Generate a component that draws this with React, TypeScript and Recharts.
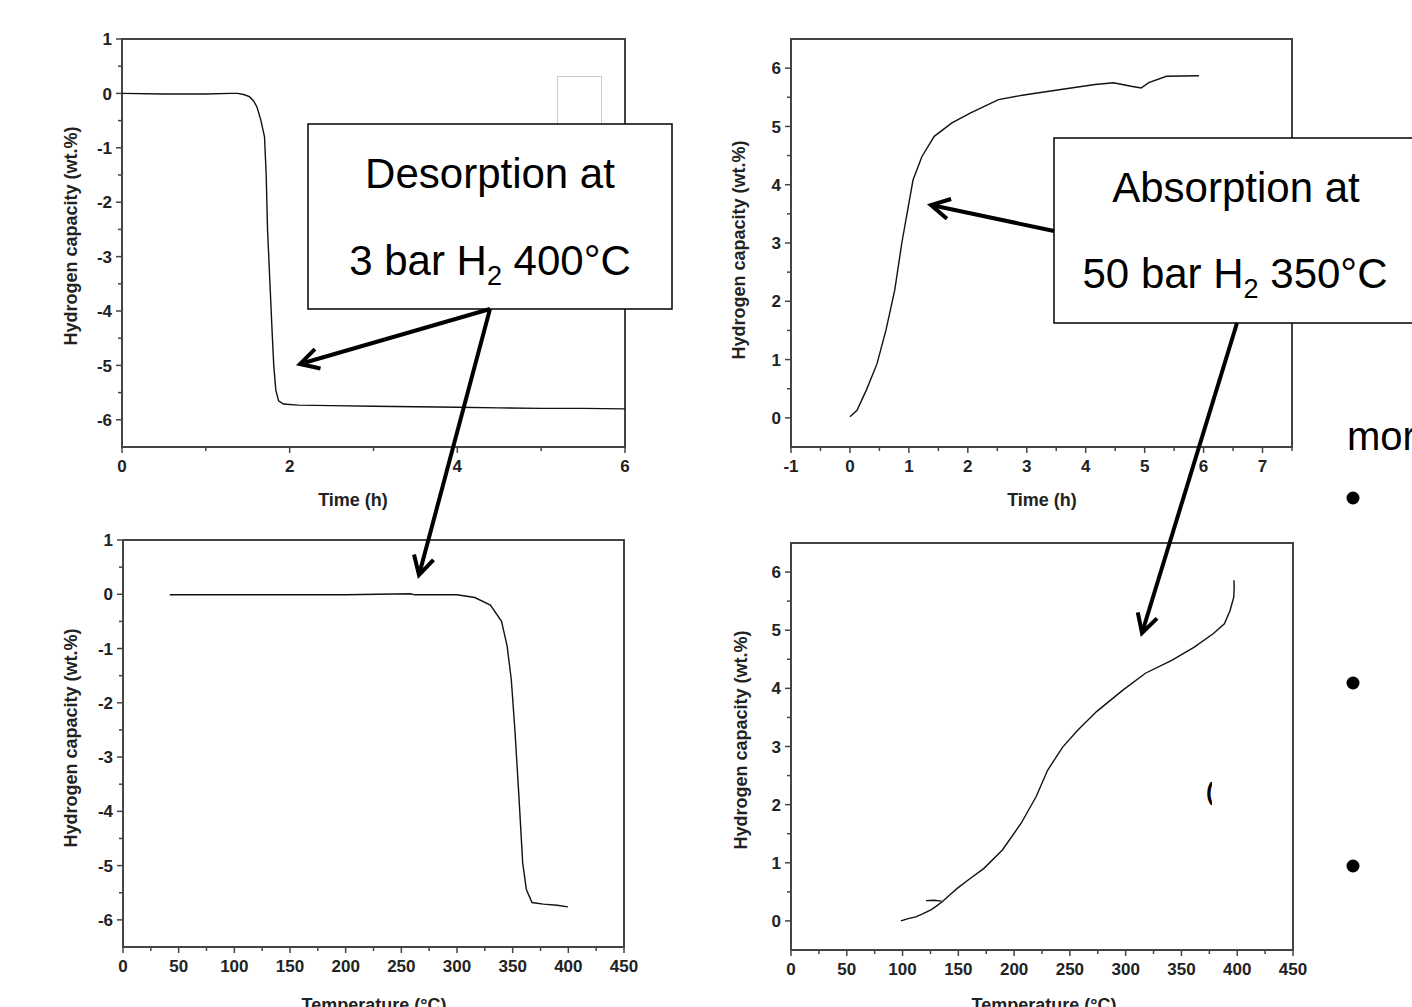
import React from 'react';
import { LineChart, Line, XAxis, YAxis, ReferenceArea } from 'recharts';

const FONT = '"Liberation Sans", Arial, Helvetica, sans-serif';

// top left: desorption, capacity vs time
const desTime = [0, 0.5, 1, 1.3, 1.38, 1.45, 1.52, 1.57, 1.61, 1.656, 1.7, 1.72, 1.736, 1.765, 1.79, 1.81, 1.835, 1.868, 1.925, 2.1, 2.5, 3, 3.5, 4, 4.5, 5, 5.5, 6];
const desTimeCap = [0, -0.01, -0.01, 0, 0, -0.02, -0.06, -0.14, -0.25, -0.49, -0.8, -1.5, -2.5, -3.5, -4.36, -5.0, -5.46, -5.65, -5.71, -5.73, -5.74, -5.75, -5.76, -5.77, -5.78, -5.79, -5.79, -5.8];

// top right: absorption, capacity vs time
const absTime = [0, 0.12, 0.28, 0.46, 0.61, 0.76, 0.88, 0.98, 1.07, 1.22, 1.43, 1.73, 2.04, 2.52, 2.95, 3.55, 4.16, 4.47, 4.77, 4.94, 5.07, 5.37, 5.92];
const absTimeCap = [0.02, 0.13, 0.48, 0.93, 1.5, 2.19, 3.0, 3.57, 4.08, 4.48, 4.83, 5.06, 5.23, 5.46, 5.54, 5.63, 5.72, 5.75, 5.69, 5.66, 5.75, 5.86, 5.87];

// bottom left: desorption, capacity vs temperature
const desTemp = [42, 100, 150, 200, 258, 262, 300, 316, 330, 340, 345, 348.8, 352, 355.6, 359, 362.3, 367.4, 377.6, 390, 399.6];
const desTempCap = [-0.01, -0.01, -0.01, -0.01, 0.01, -0.01, -0.01, -0.06, -0.2, -0.5, -0.95, -1.58, -2.5, -3.72, -4.95, -5.44, -5.68, -5.71, -5.73, -5.76];

// bottom right: absorption, capacity vs temperature
const absTemp = [98.5, 105, 111.9, 118, 125.4, 130, 135.5, 142, 149, 160, 172.7, 189.5, 206.3, 219.8, 230, 243.5, 257, 273.9, 297.5, 317.7, 341.3, 361.5, 378.4, 388.5, 393.6, 396.9, 397.3, 397];
const absTempCap = [0, 0.04, 0.07, 0.12, 0.19, 0.25, 0.33, 0.44, 0.56, 0.72, 0.9, 1.22, 1.68, 2.14, 2.59, 2.99, 3.28, 3.6, 3.97, 4.26, 4.48, 4.71, 4.94, 5.11, 5.34, 5.57, 5.75, 5.86];
const hookTemp = [121, 128, 135];
const hookCap = [0.35, 0.355, 0.34];

// ticks
const timeMajor1 = [0, 2, 4, 6];
const timeMinor1 = [1, 3, 5];
const timeMajor2 = [-1, 0, 1, 2, 3, 4, 5, 6, 7];
const timeMinor2 = [-0.5, 0.5, 1.5, 2.5, 3.5, 4.5, 5.5, 6.5, 7.5];
const tempMajor = [0, 50, 100, 150, 200, 250, 300, 350, 400, 450];
const tempMinor = [25, 75, 125, 175, 225, 275, 325, 375, 425];
const desCapMajor = [-6, -5, -4, -3, -2, -1, 0, 1];
const desCapMinor = [-5.5, -4.5, -3.5, -2.5, -1.5, -0.5, 0.5];
const absCapMajor = [0, 1, 2, 3, 4, 5, 6];
const absCapMinor = [0.5, 1.5, 2.5, 3.5, 4.5, 5.5];

const zip = (xs: number[], ys: number[]) => xs.map((x, i) => ({ x, y: ys[i] }));

const XTick = (props: any) => {
  const { x, y, payload, major } = props;
  const isMajor = major.includes(payload.value);
  return (
    <g>
      <line x1={x} y1={y} x2={x} y2={y + (isMajor ? 6 : 4)} stroke="#444" strokeWidth={1.5} />
      {isMajor && (
        <text x={x} y={y + 25} textAnchor="middle" fontFamily={FONT} fontWeight="bold" fontSize={17} fill="#222">
          {payload.value}
        </text>
      )}
    </g>
  );
};

const YTick = (props: any) => {
  const { x, y, payload, major } = props;
  const isMajor = major.includes(payload.value);
  return (
    <g>
      <line x1={x} y1={y} x2={x - (isMajor ? 6 : 4)} y2={y} stroke="#444" strokeWidth={1.5} />
      {isMajor && (
        <text x={x - 10} y={y} dy="0.36em" textAnchor="end" fontFamily={FONT} fontWeight="bold" fontSize={17} fill="#222">
          {payload.value}
        </text>
      )}
    </g>
  );
};

type PanelProps = {
  box: number[];
  xDomain: number[];
  yDomain: number[];
  xMajor: number[];
  xMinor: number[];
  yMajor: number[];
  yMinor: number[];
  series: { x: number; y: number }[][];
};

function Panel({ box, xDomain, yDomain, xMajor, xMinor, yMajor, yMinor, series }: PanelProps) {
  const [l, r, t, b] = box;
  const padL = 80;
  const padR = 20;
  const padT = 20;
  const padB = 40;
  return (
    <div style={{ position: 'absolute', left: l - padL, top: t - padT }}>
      <LineChart
        width={r - l + padL + padR}
        height={b - t + padT + padB}
        margin={{ top: padT, right: padR, bottom: 0, left: 0 }}
      >
        <XAxis
          dataKey="x"
          type="number"
          domain={xDomain}
          ticks={[...xMajor, ...xMinor]}
          interval={0}
          allowDataOverflow
          height={padB}
          axisLine={false}
          tickLine={false}
          tickSize={0}
          tickMargin={0}
          tick={<XTick major={xMajor} />}
        />
        <YAxis
          type="number"
          domain={yDomain}
          ticks={[...yMajor, ...yMinor]}
          interval={0}
          allowDataOverflow
          width={padL}
          axisLine={false}
          tickLine={false}
          tickSize={0}
          tickMargin={0}
          tick={<YTick major={yMajor} />}
        />
        <ReferenceArea
          x1={xDomain[0]}
          x2={xDomain[1]}
          y1={yDomain[0]}
          y2={yDomain[1]}
          fill="none"
          fillOpacity={0}
          stroke="#444"
          strokeWidth={2}
        />
        {series.map((d, i) => (
          <Line
            key={i}
            data={d}
            dataKey="y"
            type="linear"
            dot={false}
            activeDot={false}
            stroke="#111"
            strokeWidth={1.4}
            isAnimationActive={false}
          />
        ))}
      </LineChart>
    </div>
  );
}

function Arrow({ x1, y1, x2, y2 }: { x1: number; y1: number; x2: number; y2: number }) {
  const a = Math.atan2(y1 - y2, x1 - x2);
  const len = 21;
  const p = (s: number) => `${x2 + len * Math.cos(a + s)},${y2 + len * Math.sin(a + s)}`;
  return (
    <g stroke="#000" strokeWidth={4} fill="none">
      <line x1={x1} y1={y1} x2={x2} y2={y2} />
      <polyline points={`${p(0.5)} ${x2},${y2} ${p(-0.5)}`} />
    </g>
  );
}

const YTitle = ({ x, y }: { x: number; y: number }) => (
  <text
    x={x}
    y={y}
    transform={`rotate(-90 ${x} ${y})`}
    textAnchor="middle"
    dominantBaseline="central"
    fontFamily={FONT}
    fontWeight="bold"
    fontSize={18}
    fill="#222"
  >
    Hydrogen capacity (wt.%)
  </text>
);

const XTitle = ({ x, y, label }: { x: number; y: number; label: string }) => (
  <text x={x} y={y} textAnchor="middle" fontFamily={FONT} fontWeight="bold" fontSize={18} fill="#222">
    {label}
  </text>
);

export default function App() {
  return (
    <div style={{ position: 'absolute', left: 0, top: 0, width: 1412, height: 1007, background: '#fff', overflow: 'hidden' }}>
      <Panel
        box={[122, 625, 39, 447]}
        xDomain={[0, 6]}
        yDomain={[-6.5, 1]}
        xMajor={timeMajor1}
        xMinor={timeMinor1}
        yMajor={desCapMajor}
        yMinor={desCapMinor}
        series={[zip(desTime, desTimeCap)]}
      />
      <Panel
        box={[791, 1292, 39, 447]}
        xDomain={[-1, 7.5]}
        yDomain={[-0.5, 6.5]}
        xMajor={timeMajor2}
        xMinor={timeMinor2}
        yMajor={absCapMajor}
        yMinor={absCapMinor}
        series={[zip(absTime, absTimeCap)]}
      />
      <Panel
        box={[123, 624, 540, 947]}
        xDomain={[0, 450]}
        yDomain={[-6.5, 1]}
        xMajor={tempMajor}
        xMinor={tempMinor}
        yMajor={desCapMajor}
        yMinor={desCapMinor}
        series={[zip(desTemp, desTempCap)]}
      />
      <Panel
        box={[791, 1293, 543, 950]}
        xDomain={[0, 450]}
        yDomain={[-0.5, 6.5]}
        xMajor={tempMajor}
        xMinor={tempMinor}
        yMajor={absCapMajor}
        yMinor={absCapMinor}
        series={[zip(absTemp, absTempCap), zip(hookTemp, hookCap)]}
      />
      <svg width={1412} height={1007} style={{ position: 'absolute', left: 0, top: 0, pointerEvents: 'none' }}>
        <defs>
          <clipPath id="fragClip">
            <rect x={1200} y={775} width={12} height={35} />
          </clipPath>
        </defs>
        <rect x={557.5} y={76.5} width={44} height={60} fill="none" stroke="#ccc" strokeWidth={1} />

        <YTitle x={71} y={236} />
        <YTitle x={739} y={250} />
        <YTitle x={71} y={738} />
        <YTitle x={741} y={740} />
        <XTitle x={353} y={506} label="Time (h)" />
        <XTitle x={1042} y={506} label="Time (h)" />
        <XTitle x={374} y={1011} label="Temperature (°C)" />
        <XTitle x={1044} y={1011} label="Temperature (°C)" />

        <rect x={308} y={124} width={364} height={185} fill="#fff" stroke="#000" strokeWidth={1.5} />
        <text x={490} y={188} textAnchor="middle" fontFamily={FONT} fontSize={42} fill="#000">
          Desorption at
        </text>
        <text x={490} y={275} textAnchor="middle" fontFamily={FONT} fontSize={42} fill="#000">
          3 bar H<tspan fontSize={27} dy={10}>2</tspan>
          <tspan dy={-10}> 400°C</tspan>
        </text>

        <rect x={1054} y={138} width={380} height={185} fill="#fff" stroke="#000" strokeWidth={1.5} />
        <text x={1236} y={202} textAnchor="middle" fontFamily={FONT} fontSize={42} fill="#000">
          Absorption at
        </text>
        <text x={1235} y={288} textAnchor="middle" fontFamily={FONT} fontSize={42} fill="#000">
          50 bar H<tspan fontSize={27} dy={10}>2</tspan>
          <tspan dy={-10}> 350°C</tspan>
        </text>

        <Arrow x1={490} y1={309} x2={300} y2={364} />
        <Arrow x1={490} y1={309} x2={419} y2={575} />
        <Arrow x1={1054} y1={231} x2={931} y2={205} />
        <Arrow x1={1237} y1={323} x2={1142} y2={633} />

        <text x={1347} y={450} fontFamily={FONT} fontSize={40} fill="#000">
          mor
        </text>
        <circle cx={1353} cy={498} r={6.5} fill="#000" />
        <circle cx={1353} cy={683} r={6.5} fill="#000" />
        <circle cx={1353} cy={866} r={6.5} fill="#000" />
        <text x={1206} y={800} fontFamily={FONT} fontWeight="bold" fontSize={24} fill="#000" clipPath="url(#fragClip)">
          (
        </text>
      </svg>
    </div>
  );
}
